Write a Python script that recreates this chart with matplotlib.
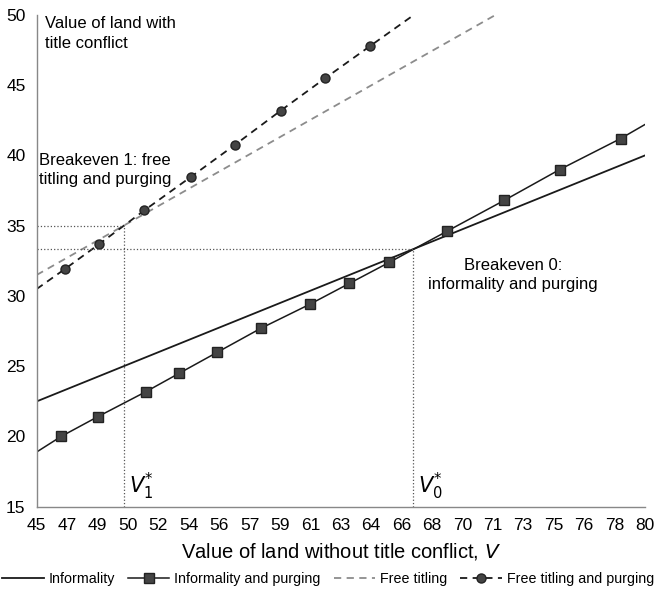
import matplotlib.pyplot as plt
import numpy as np

plt.rcParams['font.family'] = ['Liberation Sans', 'DejaVu Sans']

# Informality: straight line across the range
inf_x = [45, 80]
inf_y = [22.5, 40.0]

# Informality and purging: line plus square markers
inf_p_x = [45, 46.4, 48.5, 51.3, 53.2, 55.4, 57.9, 60.7, 63.0, 65.3, 68.6, 71.9, 75.1, 78.6, 80]
inf_p_y = [18.9, 20.0, 21.4, 23.2, 24.5, 26.0, 27.7, 29.4, 30.9, 32.4, 34.6, 36.8, 39.0, 41.2, 42.2]

# Free titling
ft_x = [45, 71.4]
ft_y = [31.5, 50.0]

# Free titling and purging: dashed line plus circle markers
ftp_x = [45, 46.6, 48.6, 51.2, 53.9, 56.4, 59.05, 61.6, 64.2, 66.7]
ftp_y = [30.5, 31.9, 33.7, 36.1, 38.5, 40.75, 43.2, 45.5, 47.8, 50.0]

# breakeven points
v1, y1 = 50.0, 35.0
v0, y0 = 66.67, 33.33

xtick_pos = np.linspace(45, 80, 21)
xtick_lab = ["45", "47", "49", "50", "52", "54", "56", "57", "59", "61", "63",
             "64", "66", "68", "70", "71", "73", "75", "76", "78", "80"]

fig = plt.figure(figsize=(6.56, 5.99), dpi=100)
ax = fig.add_axes([0.056, 0.154, 0.927, 0.821])

dark = "#1a1a1a"
mk = "#444444"

ax.plot(inf_x, inf_y, "-", color=dark, lw=1.3, label="Informality")
ax.plot(inf_p_x, inf_p_y, "-", color=dark, lw=1.1, marker="s", markersize=6.5,
        markerfacecolor=mk, markeredgecolor="#222222", markevery=list(range(1, len(inf_p_x) - 1)),
        label="Informality and purging")
ax.plot(ft_x, ft_y, "--", color="#8c8c8c", lw=1.3, dashes=(4, 3), label="Free titling")
ax.plot(ftp_x, ftp_y, "--", color=dark, lw=1.3, dashes=(4, 3), marker="o", markersize=6.5,
        markerfacecolor=mk, markeredgecolor="#222222", markevery=list(range(1, len(ftp_x) - 1)),
        label="Free titling and purging")

# dotted guide lines
ax.plot([45, v1], [y1, y1], ":", color="#555555", lw=0.9)
ax.plot([v1, v1], [15, y1], ":", color="#555555", lw=0.9)
ax.plot([45, v0], [y0, y0], ":", color="#555555", lw=0.9)
ax.plot([v0, v0], [15, y0], ":", color="#555555", lw=0.9)

ax.set_xlim(45, 80)
ax.set_ylim(15, 50)
ax.set_xticks(xtick_pos)
ax.set_xticklabels(xtick_lab)
ax.set_yticks(range(15, 51, 5))
ax.tick_params(length=0, labelsize=12.5, pad=8)
for s in ["top", "right"]:
    ax.spines[s].set_visible(False)
for s in ["left", "bottom"]:
    ax.spines[s].set_color("#888888")
    ax.spines[s].set_linewidth(1.0)

ax.set_xlabel("Value of land without title conflict, $V$", fontsize=14.5, labelpad=6)

ax.text(45.45, 49.9, "Value of land with\ntitle conflict", fontsize=12, va="top", ha="left",
        linespacing=1.35)
ax.text(45.15, 40.2, "Breakeven 1: free\ntitling and purging", fontsize=12, va="top", ha="left",
        linespacing=1.35)
ax.text(72.4, 32.7, "Breakeven 0:\ninformality and purging", fontsize=12, va="top", ha="center",
        linespacing=1.35)
ax.text(v1 + 0.3, 16.0, "$V_1^{*}$", fontsize=15)
ax.text(v0 + 0.3, 16.0, "$V_0^{*}$", fontsize=15)

fig.legend(loc="lower center", ncol=4, frameon=False, fontsize=10.3,
           handlelength=2.9, handletextpad=0.35, columnspacing=0.9,
           bbox_to_anchor=(0.5, 0.0))

fig.savefig("out.png", dpi=100)
